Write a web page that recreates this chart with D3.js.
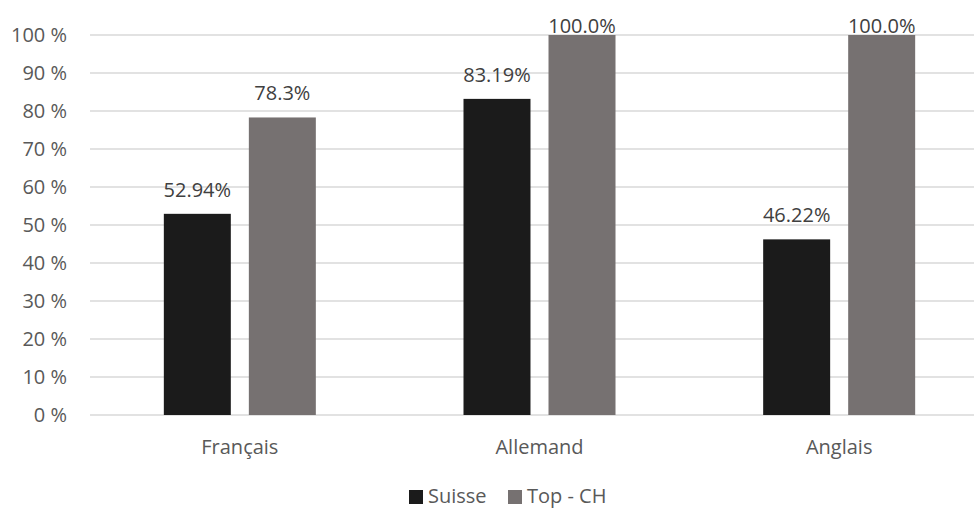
<!DOCTYPE html>
<html>
<head>
<meta charset="utf-8">
<script src="https://cdn.jsdelivr.net/npm/d3@7"></script>
<style>
  html, body { margin: 0; padding: 0; background: #fff; }
  svg { display: block; font-family: "Open Sans", "Noto Sans", sans-serif; }
</style>
</head>
<body>
<svg id="chart" width="974" height="508"></svg>
<script>
// Language categories and the two series
const categories = ["Français", "Allemand", "Anglais"];
const seriesNames = ["Suisse", "Top - CH"];
const suisse = [52.94, 83.19, 46.22];
const topCH = [78.3, 100.0, 100.0];
const suisseLabels = ["52.94%", "83.19%", "46.22%"];
const topCHLabels = ["78.3%", "100.0%", "100.0%"];
const yTicks = [0, 10, 20, 30, 40, 50, 60, 70, 80, 90, 100];
const colors = ["#1b1b1b", "#767171"];

const FONT = "20px";
const svg = d3.select("#chart");
const plot = { left: 90, right: 989, top: 35, bottom: 415 };

const x = d3.scaleBand().domain(categories).range([plot.left, plot.right]);
const sub = d3.scaleBand().domain(seriesNames)
  .range([x.bandwidth() / 2 - 76, x.bandwidth() / 2 + 76])
  .paddingInner(0.212);
const y = d3.scaleLinear().domain([0, 100]).range([plot.bottom, plot.top]);

// Gridlines
svg.append("g")
  .selectAll("line")
  .data(yTicks)
  .join("line")
  .attr("x1", plot.left).attr("x2", plot.right)
  .attr("y1", d => y(d)).attr("y2", d => y(d))
  .attr("stroke", "#d9d9d9").attr("stroke-width", 1.3);

// Y axis labels
const yAxis = d3.axisLeft(y).tickValues(yTicks).tickFormat(d => d + " %").tickSize(0).tickPadding(23);
const yg = svg.append("g").attr("transform", `translate(${plot.left},0)`).call(yAxis);
yg.select(".domain").remove();
yg.selectAll("text").attr("fill", "#595959").style("font-size", FONT).style("font-family", "'Open Sans', sans-serif");

// Bars
const rows = categories.map((c, i) => ({ cat: c, vals: [
  { s: seriesNames[0], v: suisse[i], label: suisseLabels[i] },
  { s: seriesNames[1], v: topCH[i], label: topCHLabels[i] }
]}));

const groups = svg.append("g").selectAll("g")
  .data(rows).join("g")
  .attr("transform", d => `translate(${x(d.cat)},0)`);

groups.selectAll("rect")
  .data(d => d.vals).join("rect")
  .attr("x", d => sub(d.s))
  .attr("width", sub.bandwidth())
  .attr("y", d => y(d.v))
  .attr("height", d => y(0) - y(d.v))
  .attr("fill", (d, i) => colors[i]);

groups.selectAll("text.val")
  .data(d => d.vals).join("text")
  .attr("class", "val")
  .attr("x", d => sub(d.s) + sub.bandwidth() / 2)
  .attr("y", d => y(d.v) - (d.v >= 100 ? 2 : 17))
  .attr("text-anchor", "middle")
  .attr("fill", "#404040")
  .style("font-size", FONT)
  .text(d => d.label);

// X axis labels
const xAxis = d3.axisBottom(x).tickSize(0).tickPadding(25);
const xg = svg.append("g").attr("transform", `translate(0,${plot.bottom})`).call(xAxis);
xg.select(".domain").remove();
xg.selectAll("text").attr("fill", "#595959").style("font-size", FONT).style("font-family", "'Open Sans', sans-serif");

// Legend
const legend = svg.append("g").attr("transform", "translate(0,496)");
const legendX = [409, 508];
seriesNames.forEach((name, i) => {
  legend.append("rect")
    .attr("x", legendX[i]).attr("y", -6)
    .attr("width", 14).attr("height", 14)
    .attr("fill", colors[i]);
  legend.append("text")
    .attr("x", legendX[i] + 19).attr("y", 7)
    .attr("fill", "#595959")
    .style("font-size", FONT)
    .text(name);
});
</script>
</body>
</html>
